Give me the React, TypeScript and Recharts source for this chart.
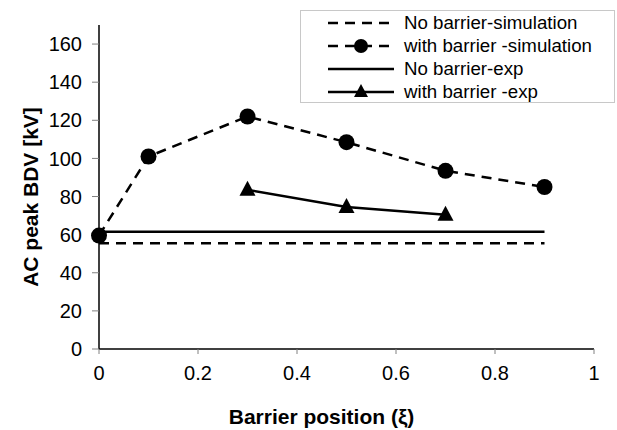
import React from 'react'
import { LineChart, Line, XAxis, YAxis, Label } from 'recharts'

// barrier position (xi)
const simPositions = [0, 0.1, 0.3, 0.5, 0.7, 0.9]
const simWithBarrier = [59.5, 101, 122, 108.5, 93.5, 85]
const expPositions = [0.3, 0.5, 0.7]
const expWithBarrier = [83.5, 74.5, 70.5]
const noBarrierPositions = [0, 0.9]
const noBarrierSim = [55.5, 55.5]
const noBarrierExp = [61.5, 61.5]

const xTicks = [0, 0.2, 0.4, 0.6, 0.8, 1]
const yTicks = [0, 20, 40, 60, 80, 100, 120, 140, 160]

const simData = simPositions.map((x, i) => ({ x, y: simWithBarrier[i] }))
const expData = expPositions.map((x, i) => ({ x, y: expWithBarrier[i] }))
const noSimData = noBarrierPositions.map((x, i) => ({ x, y: noBarrierSim[i] }))
const noExpData = noBarrierPositions.map((x, i) => ({ x, y: noBarrierExp[i] }))

const FONT = 'Liberation Sans, Arial, sans-serif'
const DASH = '10 7'

const Triangle = (props: any) => {
  const { cx, cy } = props
  if (cx == null || cy == null) return null
  return <path d={`M${cx},${cy - 9} L${cx + 8},${cy + 6} L${cx - 8},${cy + 6} Z`} fill="#000" />
}

const legendItems = [
  { name: 'No barrier-simulation', dash: DASH, marker: null },
  { name: 'with barrier -simulation', dash: DASH, marker: 'circle' },
  { name: 'No barrier-exp', dash: undefined, marker: null },
  { name: 'with barrier -exp', dash: undefined, marker: 'triangle' }
]

// legend box drawn over the top right, like the original
const LegendBox = () => (
  <div
    style={{
      position: 'absolute',
      left: 300,
      top: 10,
      width: 315,
      height: 93,
      border: '1px solid #c8c8c8',
      background: '#fff',
      fontFamily: FONT,
      fontSize: 18.7,
      boxSizing: 'border-box'
    }}
  >
    {legendItems.map((it) => (
      <div key={it.name} style={{ display: 'flex', alignItems: 'center', height: 23 }}>
        <svg width={103} height={22} style={{ flex: 'none' }}>
          <line x1={27} x2={93} y1={11} y2={11} stroke="#000" strokeWidth={2.5} strokeDasharray={it.dash} />
          {it.marker === 'circle' && <circle cx={60} cy={11} r={7} fill="#000" />}
          {it.marker === 'triangle' && <path d="M60,3 L67,16 L53,16 Z" fill="#000" />}
        </svg>
        <span style={{ color: '#000', lineHeight: '22px' }}>{it.name}</span>
      </div>
    ))}
  </div>
)

export default function App() {
  return (
    <div style={{ position: 'absolute', left: 0, top: 0, width: 617, height: 430, background: '#fff' }}>
      <LineChart width={617} height={430} margin={{ top: 25, right: 23, left: 0, bottom: 0 }}>
        <XAxis
          type="number"
          dataKey="x"
          domain={[0, 1]}
          ticks={xTicks}
          allowDuplicatedCategory={false}
          axisLine={{ stroke: '#000', strokeWidth: 1.5 }}
          tickLine={{ stroke: '#808080' }}
          tickSize={5}
          tickMargin={12}
          tick={{ fill: '#000', fontSize: 20, fontFamily: FONT }}
          height={81}
        >
          <Label
            content={(p: any) => {
              const vb = p.viewBox
              return (
                <text
                  x={vb.x + vb.width / 2 - 25}
                  y={424}
                  textAnchor="middle"
                  fontFamily={FONT}
                  fontSize={21}
                  fontWeight="bold"
                  fill="#000"
                >
                  Barrier position (ξ)
                </text>
              )
            }}
          />
        </XAxis>
        <YAxis
          type="number"
          domain={[0, 170]}
          ticks={yTicks}
          width={99}
          axisLine={{ stroke: '#000', strokeWidth: 1.5 }}
          tickLine={{ stroke: '#808080' }}
          tickSize={7}
          tickMargin={10}
          tick={{ fill: '#000', fontSize: 20, fontFamily: FONT }}
        >
          <Label
            content={() => {
              const cy = 197
              return (
                <text
                  x={38}
                  y={cy}
                  transform={`rotate(-90 38 ${cy})`}
                  textAnchor="middle"
                  fontFamily={FONT}
                  fontSize={21}
                  fontWeight="bold"
                  fill="#000"
                >
                  AC peak BDV [kV]
                </text>
              )
            }}
          />
        </YAxis>
        <Line
          data={noSimData}
          dataKey="y"
          name="No barrier-simulation"
          stroke="#000"
          strokeWidth={2.5}
          strokeDasharray={DASH}
          dot={false}
          isAnimationActive={false}
        />
        <Line
          data={noExpData}
          dataKey="y"
          name="No barrier-exp"
          stroke="#000"
          strokeWidth={2.5}
          dot={false}
          isAnimationActive={false}
        />
        <Line
          data={simData}
          dataKey="y"
          name="with barrier -simulation"
          stroke="#000"
          strokeWidth={2.5}
          strokeDasharray={DASH}
          dot={{ r: 8, fill: '#000', stroke: '#000', strokeWidth: 0, strokeDasharray: '' }}
          isAnimationActive={false}
        />
        <Line
          data={expData}
          dataKey="y"
          name="with barrier -exp"
          stroke="#000"
          strokeWidth={2.5}
          dot={<Triangle />}
          isAnimationActive={false}
        />
      </LineChart>
      <LegendBox />
    </div>
  )
}
